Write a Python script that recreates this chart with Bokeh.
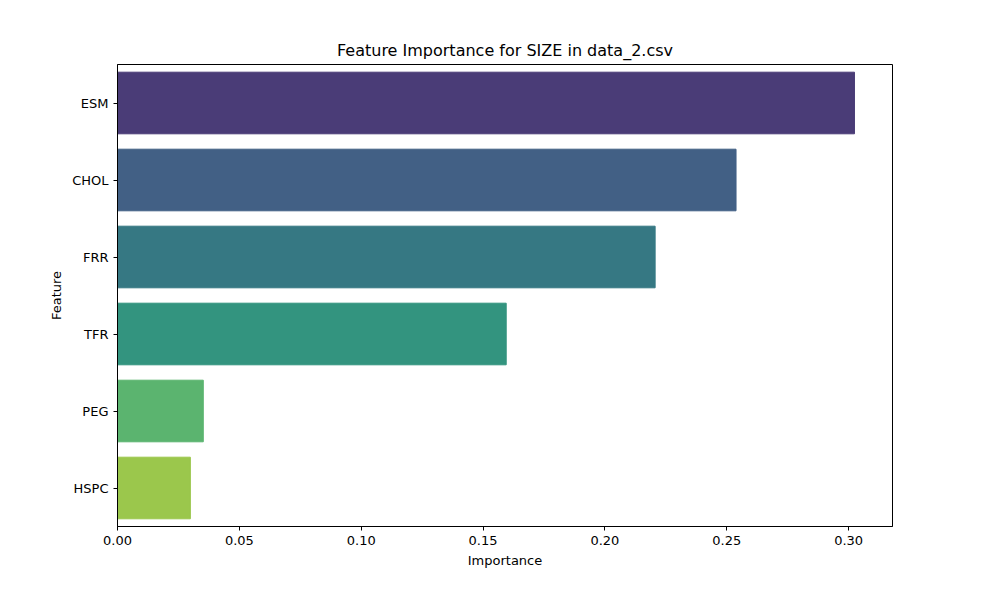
from bokeh.plotting import figure
from bokeh.models import Range1d, FixedTicker
from bokeh.embed import file_html
from bokeh.resources import INLINE

features = ["ESM", "CHOL", "FRR", "TFR", "PEG", "HSPC"]
importance = [0.3024, 0.2538, 0.2206, 0.1595, 0.0352, 0.0299]
colors = ["#4a3c77", "#426085", "#367883", "#33947f", "#5bb46f", "#9bc74c"]
x_ticks = [0.0, 0.05, 0.10, 0.15, 0.20, 0.25, 0.30]

p = figure(
    width=984, height=584,
    y_range=list(reversed(features)),
    x_range=Range1d(0, 0.318),
    title="Feature Importance for SIZE in data_2.csv",
    output_backend="svg", toolbar_location=None,
    min_border_left=117, min_border_right=92,
    min_border_top=64, min_border_bottom=58,
)
p.hbar(y=features, right=importance, left=0, height=0.8, color=colors)

font = "DejaVu Sans"
p.title.text_font = font
p.title.text_font_size = "16px"
p.title.text_font_style = "normal"
p.title.text_color = "black"
p.title.align = "center"
p.outline_line_color = "black"
p.grid.visible = False
p.xaxis.ticker = FixedTicker(ticks=x_ticks)
p.xaxis.major_label_overrides = {t: f"{t:.2f}" for t in x_ticks}
p.xaxis.axis_label = "Importance"
p.yaxis.axis_label = "Feature"
for ax in (p.xaxis, p.yaxis):
    ax.axis_label_text_font = font
    ax.axis_label_text_font_style = "normal"
    ax.axis_label_text_font_size = "13px"
    ax.axis_label_text_color = "black"
    ax.major_label_text_font = font
    ax.major_label_text_font_size = "13px"
    ax.major_label_text_color = "black"
    ax.minor_tick_line_color = None
    ax.major_tick_in = 0
    ax.major_tick_out = 4
    ax.axis_line_color = "black"
    ax.major_tick_line_color = "black"
p.y_range.range_padding = 0.0
p.y_range.factor_padding = 0.0

open("out.html", "w").write(file_html(p, INLINE))
